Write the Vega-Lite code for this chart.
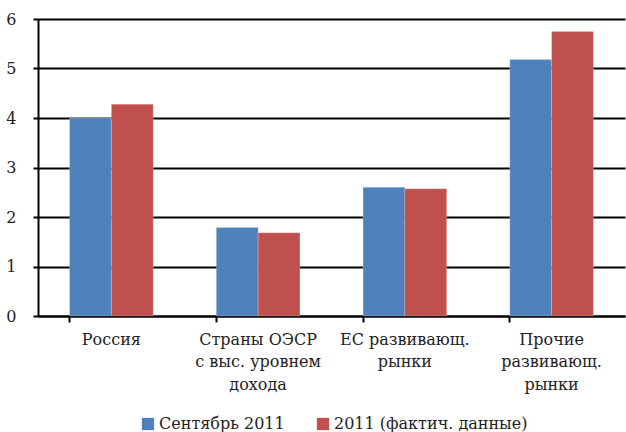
{
  "$schema": "https://vega.github.io/schema/vega-lite/v6.json",
  "width": 587,
  "height": 297,
  "autosize": {"type": "none"},
  "padding": {"left": 38, "top": 19, "right": 1, "bottom": 116},
  "background": "white",
  "data": {
    "values": [
      {"cat": "Россия", "series": "Сентябрь 2011", "value": 4.0},
      {"cat": "Россия", "series": "2011 (фактич. данные)", "value": 4.28},
      {"cat": "Страны ОЭСР\nс выс. уровнем\nдохода", "series": "Сентябрь 2011", "value": 1.79},
      {"cat": "Страны ОЭСР\nс выс. уровнем\nдохода", "series": "2011 (фактич. данные)", "value": 1.68},
      {"cat": "ЕС развивающ.\nрынки", "series": "Сентябрь 2011", "value": 2.6},
      {"cat": "ЕС развивающ.\nрынки", "series": "2011 (фактич. данные)", "value": 2.57},
      {"cat": "Прочие\nразвивающ.\nрынки", "series": "Сентябрь 2011", "value": 5.18},
      {"cat": "Прочие\nразвивающ.\nрынки", "series": "2011 (фактич. данные)", "value": 5.75}
    ]
  },
  "mark": {"type": "bar", "stroke": "white", "strokeOpacity": 0.4, "strokeWidth": 0.5},
  "encoding": {
    "x": {
      "field": "cat",
      "type": "nominal",
      "sort": null,
      "title": null,
      "scale": {"paddingInner": 0.43, "paddingOuter": 0.215},
      "axis": {
        "labelAngle": 0,
        "labelExpr": "split(datum.label, '\\n')",
        "labelFont": "DejaVu Serif",
        "labelFontSize": 16,
        "labelColor": "#222",
        "labelLineHeight": 22.5,
        "labelPadding": 9,
        "labelBaseline": "top",
        "bandPosition": 0,
        "ticks": true,
        "tickSize": 6,
        "tickColor": "black",
        "tickWidth": 2,
        "domainColor": "black",
        "domainWidth": 2,
        "grid": false
      }
    },
    "xOffset": {"field": "series", "type": "nominal", "sort": ["Сентябрь 2011", "2011 (фактич. данные)"]},
    "y": {
      "field": "value",
      "type": "quantitative",
      "title": null,
      "scale": {"domain": [0, 6], "nice": false},
      "axis": {
        "values": [0, 1, 2, 3, 4, 5, 6],
        "labelFont": "DejaVu Serif",
        "labelFontSize": 16,
        "labelColor": "#222",
        "labelPadding": 17,
        "tickSize": 5,
        "tickColor": "black",
        "tickWidth": 2,
        "domainColor": "black",
        "domainWidth": 2,
        "grid": true,
        "gridColor": "black",
        "gridOpacity": 1,
        "gridWidth": 2
      }
    },
    "color": {
      "field": "series",
      "type": "nominal",
      "sort": ["Сентябрь 2011", "2011 (фактич. данные)"],
      "scale": {"domain": ["Сентябрь 2011", "2011 (фактич. данные)"], "range": ["#4F81BD", "#C0504D"]},
      "legend": {
        "title": null,
        "orient": "none",
        "legendX": 102,
        "legendY": 397,
        "direction": "horizontal",
        "symbolType": "square",
        "symbolSize": 150,
        "symbolStrokeWidth": 0,
        "labelFont": "DejaVu Serif",
        "labelFontSize": 16,
        "labelColor": "#222",
        "labelOffset": 3,
        "columnPadding": 30,
        "labelLimit": 400
      }
    }
  },
  "config": {"view": {"stroke": null}}
}
